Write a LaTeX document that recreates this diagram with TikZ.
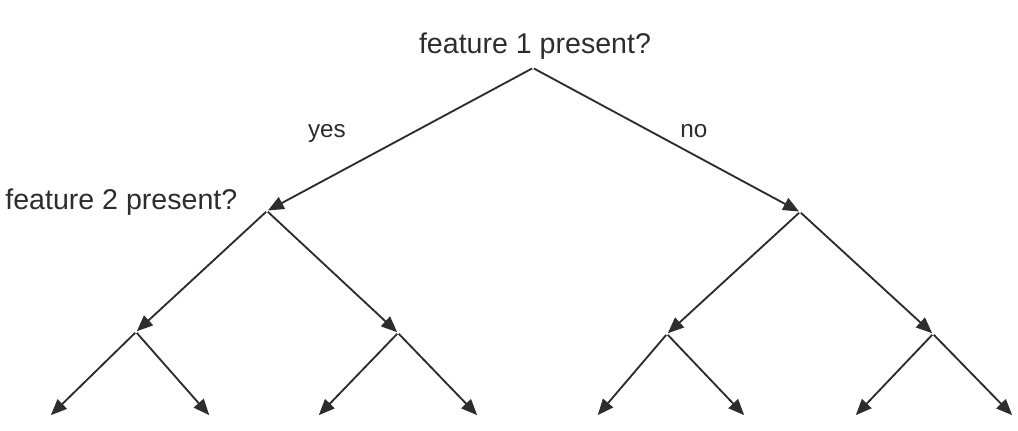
\documentclass[tikz,border=0pt]{standalone}
\usepackage{fontspec}
\setmainfont{Liberation Sans}
\usetikzlibrary{arrows.meta}
\definecolor{ink}{RGB}{45,45,45}
\tikzset{
  every picture/.style={color=ink, line width=0.6pt},
  split/.style={inner sep=0pt, minimum size=0pt},
  branch/.style={-{Triangle[length=5.6pt,width=4.6pt]}, line width=0.65pt, draw=ink},
  question/.style={font=\fontsize{10}{12}\selectfont, text=ink, inner sep=1pt},
  answer/.style={question, font=\fontsize{8.5}{10}\selectfont},
}

\begin{document}
\begin{tikzpicture}[x=0.35pt, y=-0.35pt]
  % Two levels of yes/no questions, one more level of leaves.
  \useasboundingbox (0,0) rectangle (1018,431);
  \node[split] (f1) at (533,68) {};
  \node[split] (y) at (267,211) {};
  \node[split] (n) at (800,212) {};
  \node[split] (yy) at (136,332) {};
  \node[split] (yn) at (398,333) {};
  \node[split] (ny) at (667,334) {};
  \node[split] (nn) at (933,334) {};
  \node[split] (l1) at (50,416) {};
  \node[split] (l2) at (210,416) {};
  \node[split] (l3) at (318,416) {};
  \node[split] (l4) at (478,416) {};
  \node[split] (l5) at (597,416) {};
  \node[split] (l6) at (745,416) {};
  \node[split] (l7) at (855,416) {};
  \node[split] (l8) at (1013,416) {};
  \node[question, anchor=base] (q1) at (535,53) {feature 1 present?};
  \node[question, anchor=base east] (q2) at (241,209) {feature 2 present?};
  \node[answer, anchor=base] (yes) at (327,137) {yes};
  \node[answer, anchor=base] (no) at (694,137) {no};
  \draw[branch] (f1) -- (y);
  \draw[branch] (f1) -- (n);
  \draw[branch] (y) -- (yy);
  \draw[branch] (y) -- (yn);
  \draw[branch] (n) -- (ny);
  \draw[branch] (n) -- (nn);
  \draw[branch] (yy) -- (l1);
  \draw[branch] (yy) -- (l2);
  \draw[branch] (yn) -- (l3);
  \draw[branch] (yn) -- (l4);
  \draw[branch] (ny) -- (l5);
  \draw[branch] (ny) -- (l6);
  \draw[branch] (nn) -- (l7);
  \draw[branch] (nn) -- (l8);
\end{tikzpicture}
\end{document}
